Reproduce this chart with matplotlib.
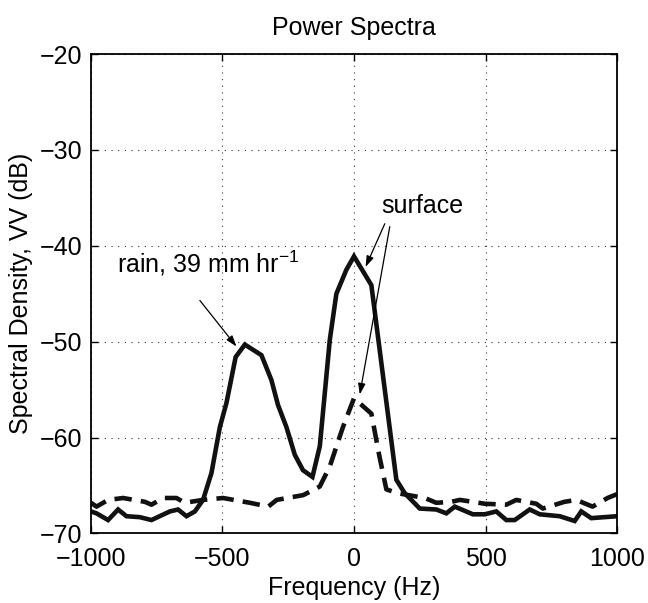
import matplotlib
matplotlib.use('Agg')
import matplotlib.pyplot as plt

plt.rcParams['font.family'] = ['Liberation Sans', 'DejaVu Sans']
plt.rcParams['mathtext.fontset'] = 'custom'
plt.rcParams['mathtext.rm'] = 'Liberation Sans'
plt.rcParams['mathtext.default'] = 'regular'

# rain + surface spectrum (solid)
SOLID_HZ = [-1000, -979, -935, -897, -865, -814, -770, -700, -669, -637,
            -605, -574, -542, -510, -485, -450, -415, -352, -314, -289,
            -257, -225, -194, -158, -130, -92, -67, -29, 0, 66,
            161, 193, 250, 313, 351, 383, 452, 497, 541, 579,
            611, 668, 706, 782, 839, 864, 902, 1000]
SOLID_DB = [-67.7, -67.9, -68.6, -67.5, -68.2, -68.3, -68.6, -67.7, -67.5, -68.2,
            -67.7, -66.5, -63.7, -58.9, -56.4, -51.6, -50.3, -51.4, -54.0, -56.6,
            -58.9, -61.8, -63.4, -64.1, -60.9, -49.8, -45.0, -42.5, -41.1, -44.1,
            -64.4, -65.8, -67.4, -67.5, -67.9, -67.2, -68.0, -68.0, -67.7, -68.6,
            -68.6, -67.5, -68.0, -68.2, -68.7, -67.7, -68.4, -68.2]

# surface-only spectrum (dashed)
DASH_HZ = [-1000, -979, -935, -878, -795, -770, -726, -675, -644, -574,
           -498, -396, -326, -294, -193, -130, -92, -42, 0, 66,
           97, 123, 166, 269, 313, 370, 402, 452, 497, 579,
           617, 693, 718, 800, 845, 907, 964, 1000]
DASH_DB = [-66.8, -67.2, -66.5, -66.3, -66.7, -67.0, -66.3, -66.3, -66.8, -66.5,
           -66.3, -66.8, -67.2, -66.5, -66.0, -65.1, -63.0, -58.9, -55.9, -57.5,
           -62.0, -65.4, -65.8, -66.3, -66.8, -66.7, -66.5, -66.7, -66.9, -67.0,
           -66.5, -66.9, -67.4, -66.7, -66.5, -67.2, -66.3, -65.9]

X_TICKS = [-1000, -500, 0, 500, 1000]
Y_TICKS = [-70, -60, -50, -40, -30, -20]

fig = plt.figure(figsize=(6.48, 6.03), dpi=100)
ax = fig.add_axes([0.1404, 0.1153, 0.8118, 0.7951])

ax.plot(SOLID_HZ, SOLID_DB, color='#111111', linewidth=3.3,
        solid_joinstyle='miter')
ax.plot(DASH_HZ, DASH_DB, color='#111111', linewidth=3.3,
        dashes=(3.8, 2.0))

ax.set_xlim(-1000, 1000)
ax.set_ylim(-70, -20)
ax.set_xticks(X_TICKS)
ax.set_yticks(Y_TICKS)
ax.set_xticklabels(['\u22121000', '\u2212500', '0', '500', '1000'])
ax.set_yticklabels(['\u221270', '\u221260', '\u221250', '\u221240', '\u221230', '\u221220'])
ax.tick_params(direction='in', top=True, right=True, length=5, width=1,
               labelsize=18)
ax.tick_params(axis='x', pad=10)
ax.tick_params(axis='y', pad=6)
ax.grid(True, linestyle=(0, (1, 5)), color='#333333', linewidth=0.8)
for sp in ax.spines.values():
    sp.set_linewidth(1.3)

ax.set_title('Power Spectra', fontsize=18, pad=14)
ax.set_xlabel('Frequency (Hz)', fontsize=18, labelpad=3)
ax.set_ylabel('Spectral Density, VV (dB)', fontsize=18, labelpad=5)

arrow = dict(arrowstyle='-|>,head_length=0.65,head_width=0.22',
             lw=0.9, color='k', shrinkA=0, shrinkB=0)
ax.annotate('', xy=(-447, -50.5), xytext=(-586, -45.7), arrowprops=arrow)
ax.text(-902, -42.8, 'rain, 39 mm hr$^{-1}$', fontsize=18,
        ha='left', va='baseline')
ax.annotate('', xy=(44, -42.2), xytext=(117, -37.7), arrowprops=arrow)
ax.annotate('', xy=(22, -55.5), xytext=(136, -38.0), arrowprops=arrow)
ax.text(105, -36.6, 'surface', fontsize=18, ha='left', va='baseline')

fig.savefig('out.png', dpi=100)
